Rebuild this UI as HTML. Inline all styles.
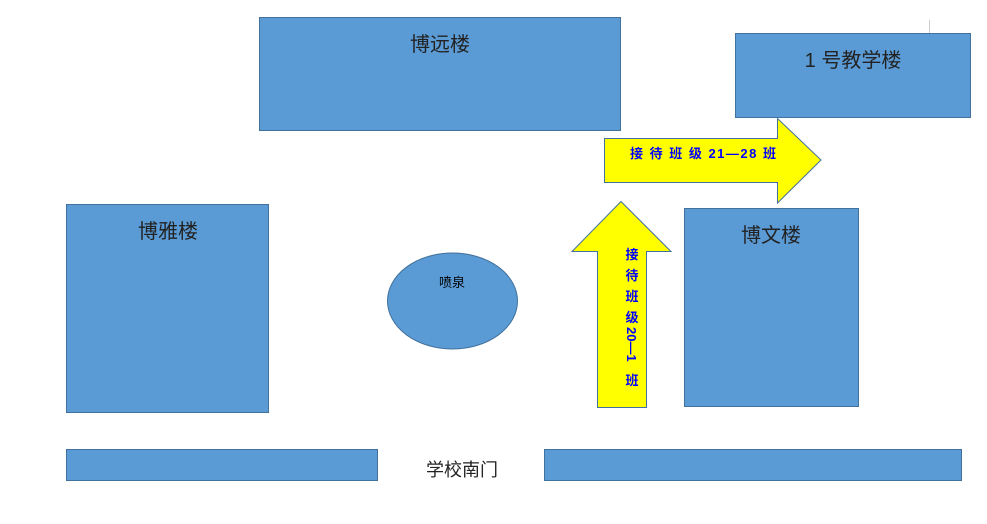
<!DOCTYPE html>
<html><head><meta charset="utf-8"><style>
body{margin:0;background:#fff;}
svg{display:block}
text{font-family:"Liberation Sans","Noto Sans CJK SC",sans-serif;}
</style></head><body>
<svg width="987" height="524" viewBox="0 0 987 524">
<g fill="#5b9bd5" stroke="#41719c" stroke-width="1">
<rect x="259.5" y="17.5" width="361" height="113"/>
<rect x="735.5" y="33.5" width="235" height="84"/>
<rect x="66.5" y="204.5" width="202" height="208"/>
<rect x="684.5" y="208.5" width="174" height="198"/>
<ellipse cx="452.5" cy="301" rx="65" ry="48"/>
<rect x="66.5" y="449.5" width="311" height="31"/>
<rect x="544.5" y="449.5" width="417" height="31"/>
</g>
<line x1="929.5" y1="20" x2="929.5" y2="33" stroke="#ccc"/>
<g fill="#ffff00" stroke="#41719c" stroke-width="1">
<polygon points="604.5,138.5 777.5,138.5 777.5,118.5 821,160 777.5,203 777.5,182.5 604.5,182.5"/>
<polygon points="621,201.5 671,251.5 646.5,251.5 646.5,407.5 597.5,407.5 597.5,251.5 572,251.5"/>
</g>
<g font-size="20" fill="#222">
<text x="440" y="51" text-anchor="middle">博远楼</text>
<text x="853" y="67" text-anchor="middle">1 号教学楼</text>
<text x="168" y="238" text-anchor="middle">博雅楼</text>
<text x="771" y="242" text-anchor="middle">博文楼</text>
<text x="462" y="476" text-anchor="middle" font-size="18">学校南门</text>
</g>
<text x="452" y="287" text-anchor="middle" font-size="13" fill="#000">喷泉</text>
<text x="630" y="158" font-size="13" font-weight="bold" fill="#0000ff" letter-spacing="1.5">接 待 班 级 21—28 班</text>
<g font-size="13" font-weight="bold" fill="#0000ff" text-anchor="middle">
<text x="632" y="259">接</text>
<text x="632" y="280">待</text>
<text x="632" y="301">班</text>
<text x="632" y="322">级</text>
<text x="632" y="385">班</text>
</g>
<text x="0" y="0" transform="translate(627,327) rotate(90)" font-size="13" font-weight="bold" fill="#0000ff" text-anchor="start">20—1</text>
</svg>
</body></html>
